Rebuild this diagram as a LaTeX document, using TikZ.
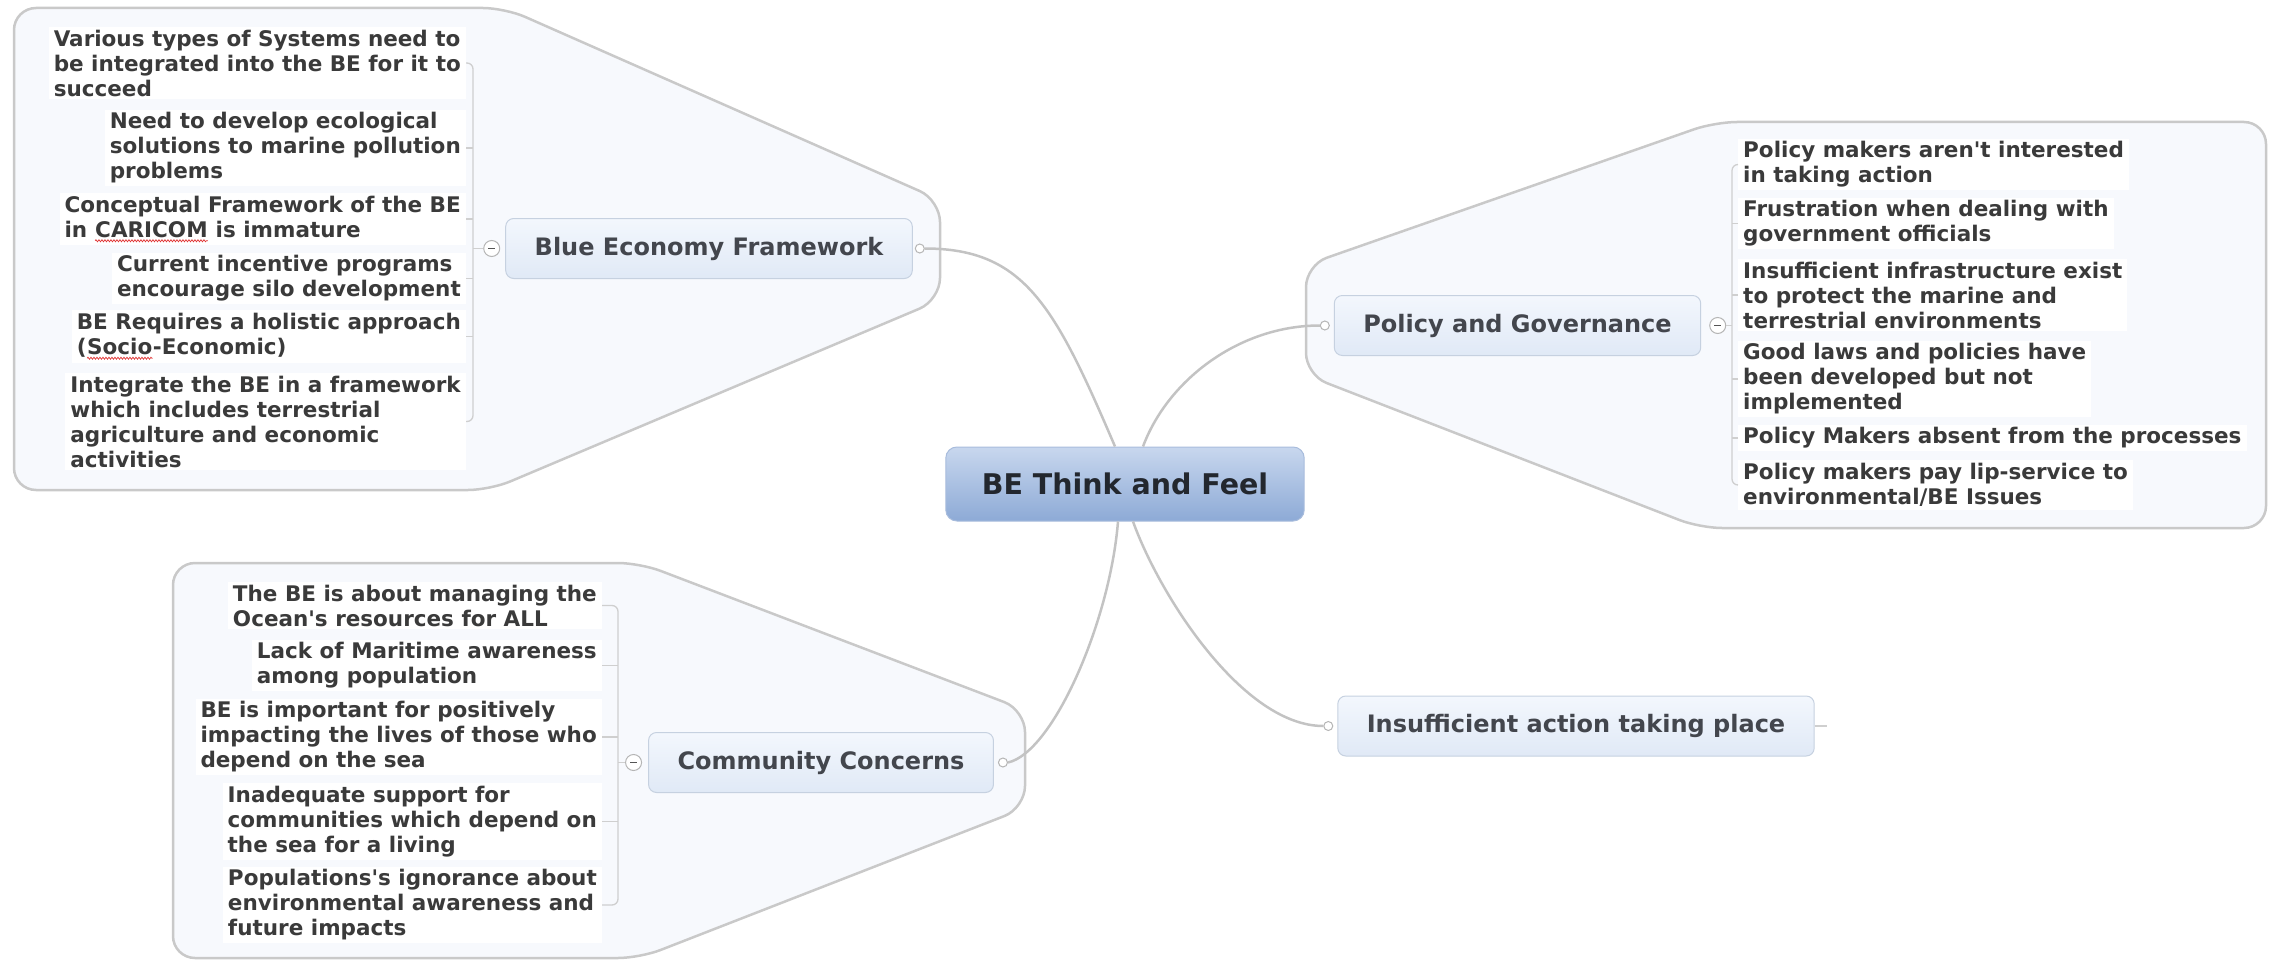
\documentclass[tikz,border=0pt]{standalone}
\usepackage{fontspec}
\setmainfont{DejaVu Sans}
\usepackage{tikz}
\usetikzlibrary{positioning,decorations.pathmorphing}
\definecolor{grpfill}{HTML}{F7F9FD}
\definecolor{grpline}{HTML}{C9C9C9}
\definecolor{linkgray}{HTML}{C3C3C3}
\definecolor{twiggray}{HTML}{CFCFCF}
\definecolor{foldgray}{HTML}{B5B5B5}
\definecolor{foldmark}{HTML}{555555}
\definecolor{topictop}{HTML}{F3F7FD}
\definecolor{topicbot}{HTML}{E0E9F6}
\definecolor{topicline}{HTML}{C6D1E0}
\definecolor{topictext}{HTML}{43464D}
\definecolor{roottop}{HTML}{C8D7EE}
\definecolor{rootbot}{HTML}{8DAAD6}
\definecolor{rootline}{HTML}{A8BCDC}
\definecolor{roottext}{HTML}{23272E}
\definecolor{leaftext}{HTML}{3A3A3A}
\definecolor{spellred}{HTML}{E03030}
\tikzset{
  grp/.style={draw=grpline, fill=grpfill, line width=2.5pt, rounded corners=22pt},
  link/.style={draw=linkgray, line width=2.5pt},
  twig/.style={draw=twiggray, line width=1.3pt},
  topic/.style={draw=topicline, line width=1pt, rounded corners=8pt, top color=topictop, bottom color=topicbot,
    minimum height=60pt, inner xsep=29pt, text=topictext, font=\fontsize{24}{28}\selectfont\bfseries},
  rootnode/.style={draw=rootline, line width=1pt, rounded corners=11pt, top color=roottop, bottom color=rootbot,
    minimum height=74pt, inner xsep=36pt, text=roottext, font=\fontsize{28.5}{32}\selectfont\bfseries},
  leaf/.style={fill=white, inner xsep=5pt, inner ysep=3pt, align=left, text=leaftext,
    font=\fontsize{21.5}{25}\selectfont\bfseries},
  fold/.style={circle, draw=foldgray, fill=white, line width=1pt, minimum size=16pt, inner sep=0pt, text=foldmark},
  port/.style={circle, draw=foldgray, fill=white, line width=1pt, minimum size=9pt, inner sep=0pt},
}
\newcommand\spellmark[1]{\tikz[baseline=(sw.base)]{\node[inner sep=0pt, draw=none, fill=none, anchor=center] (sw) {#1};
  \draw[spellred, line width=0.7pt, decorate, decoration={snake, amplitude=1pt, segment length=3pt}]
    ([yshift=-3pt]sw.south west) -- ([yshift=-3pt]sw.south east);}}

\begin{document}
\begin{tikzpicture}[x=1pt, y=-1pt]
  \useasboundingbox (0,0) rectangle (2280,963);

  % group outlines
  \draw[grp] (14,8) -- (505,8) -- (940,200) -- (940,300) -- (490,490) -- (14,490) -- cycle;
  \draw[grp] (1306,265) -- (1715,122) -- (2266,122) -- (2266,528) -- (1700,528) -- (1306,375) -- cycle;
  \draw[grp] (173,563) -- (640,563) -- (1025,710) -- (1025,808) -- (640,958) -- (173,958) -- cycle;

  % central topic and main topics
  \node[rootnode] (root) at (1125,484) {BE Think and Feel};
  \node[topic] (bef) at (709,248.5) {Blue Economy Framework};
  \node[topic] (pag) at (1517.5,325.5) {Policy and Governance};
  \node[topic] (coc) at (821,762.5) {Community Concerns};
  \node[topic] (ins) at (1576,726) {Insufficient action taking place};

  \node[port, right=2pt of bef] (befp) {};
  \node[fold, left=5pt of bef] (beff) {\rule{7pt}{1.5pt}};
  \node[port, left=4pt of pag] (pagp) {};
  \node[fold, right=8pt of pag] (pagf) {\rule{7pt}{1.5pt}};
  \node[port, right=4pt of coc] (cocp) {};
  \node[fold, left=6pt of coc] (cocf) {\rule{7pt}{1.5pt}};
  \node[port, left=4pt of ins] (insp) {};
  \coordinate[right=12pt of ins.east] (inse);

  % Blue Economy Framework leaves
  \node[leaf, anchor=east] (bef1) at (466,63) {Various types of Systems need to\\be integrated into the BE for it to\\succeed};
  \node[leaf, anchor=east] (bef2) at (466,148) {Need to develop ecological\\solutions to marine pollution\\problems};
  \node[leaf, anchor=east] (bef3) at (466,219) {Conceptual Framework of the BE\\in \spellmark{CARICOM} is immature};
  \node[leaf, anchor=east] (bef4) at (466,278.5) {Current incentive programs\\encourage silo development};
  \node[leaf, anchor=east] (bef5) at (466,336.5) {BE Requires a holistic approach\\(\spellmark{Socio}-Economic)};
  \node[leaf, anchor=east] (bef6) at (466,421.5) {Integrate the BE in a framework\\which includes terrestrial\\agriculture and economic\\activities};
  \coordinate (befs) at (473,0);

  % Policy and Governance leaves
  \node[leaf, anchor=west] (pag1) at (1738,164.5) {Policy makers aren\textquotesingle t interested\\in taking action};
  \node[leaf, anchor=west] (pag2) at (1738,223.5) {Frustration when dealing with\\government officials};
  \node[leaf, anchor=west] (pag3) at (1738,295) {Insufficient infrastructure exist\\to protect the marine and\\terrestrial environments};
  \node[leaf, anchor=west] (pag4) at (1738,379) {Good laws and policies have\\been developed but not\\implemented};
  \node[leaf, anchor=west] (pag5) at (1738,438) {Policy Makers absent from the processes};
  \node[leaf, anchor=west] (pag6) at (1738,485) {Policy makers pay lip-service to\\environmental/BE Issues};
  \coordinate (pags) at (1732,0);

  % Community Concerns leaves
  \node[leaf, anchor=east] (coc1) at (602,605.5) {The BE is about managing the\\Ocean\textquotesingle s resources for ALL};
  \node[leaf, anchor=east] (coc2) at (602,665.5) {Lack of Maritime awareness\\among population};
  \node[leaf, anchor=east] (coc3) at (602,737) {BE is important for positively\\impacting the lives of those who\\depend on the sea};
  \node[leaf, anchor=east] (coc4) at (602,821.5) {Inadequate support for\\communities which depend on\\the sea for a living};
  \node[leaf, anchor=east] (coc5) at (602,905) {Populations\textquotesingle s ignorance about\\environmental awareness and\\future impacts};
  \coordinate (cocs) at (618,0);

  % leaf brackets
  \path[twig, rounded corners=6pt] (bef1.east) -| (bef6.east -| befs) -- (bef6.east);
  \path[twig] (bef2.east) edge (bef2.east -| befs)
              (bef3.east) edge (bef3.east -| befs)
              (bef4.east) edge (bef4.east -| befs)
              (bef5.east) edge (bef5.east -| befs)
              (beff.west) edge (beff.west -| befs);

  \path[twig, rounded corners=6pt] (pag1.west) -| (pag6.west -| pags) -- (pag6.west);
  \path[twig] (pag2.west) edge (pag2.west -| pags)
              (pag3.west) edge (pag3.west -| pags)
              (pag4.west) edge (pag4.west -| pags)
              (pag5.west) edge (pag5.west -| pags)
              (pagf.east) edge (pagf.east -| pags);

  \path[twig, rounded corners=6pt] (coc1.east) -| (coc5.east -| cocs) -- (coc5.east);
  \path[twig] (coc2.east) edge (coc2.east -| cocs)
              (coc3.east) edge (coc3.east -| cocs)
              (coc4.east) edge (coc4.east -| cocs)
              (cocf.west) edge (cocf.west -| cocs);

  % links to the central topic
  \draw[link] (befp.east) .. controls +(100,0) and +(-60,-140) .. ([xshift=-10pt]root.north);
  \draw[link] (pagp.west) .. controls +(-80,0) and +(25,-67) .. ([xshift=18pt]root.north);
  \draw[link] ([xshift=-7pt]root.south) .. controls +(-8,100) and +(45,-10) .. (cocp.east);
  \draw[link] ([xshift=8pt]root.south) .. controls +(27,75) and +(-80,0) .. (insp.west);
  \path[twig] (ins.east) edge (inse);
\end{tikzpicture}
\end{document}
